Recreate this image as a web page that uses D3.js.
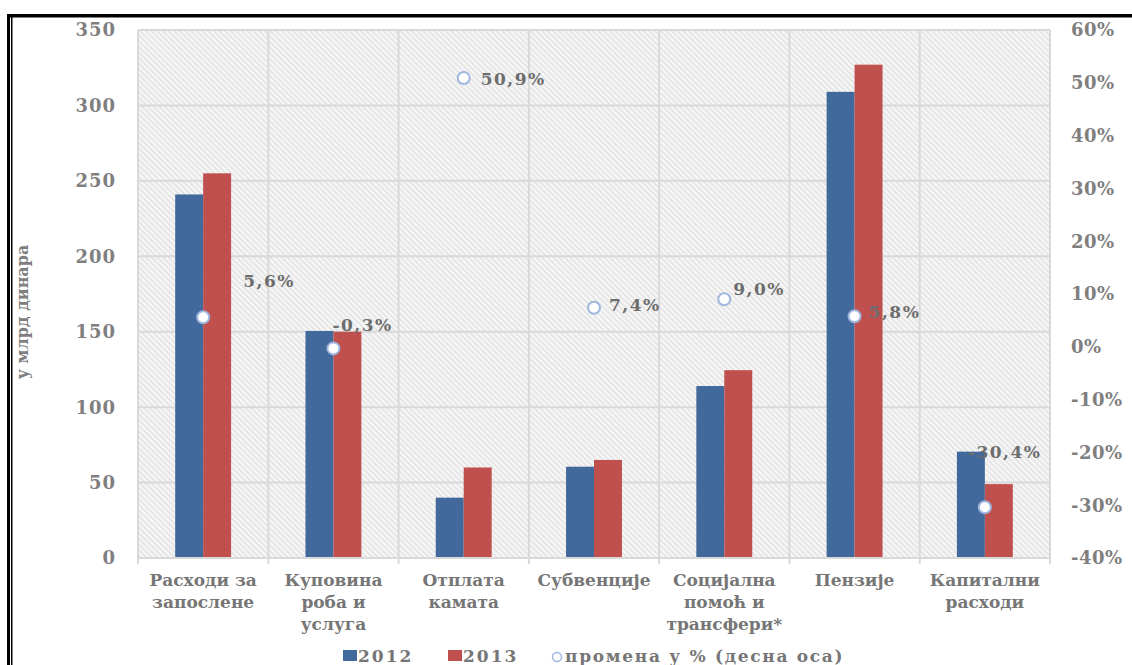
<!DOCTYPE html>
<html>
<head>
<meta charset="utf-8">
<script src="https://cdn.jsdelivr.net/npm/d3@7"></script>
<style>
  body { margin: 0; background: #ffffff; }
  #container text { font-family: "DejaVu Serif", serif; font-weight: bold; }
</style>
</head>
<body>
<div id="container"></div>
<script>
// категорије и вредности (у млрд динара)
const categories = [
  ["Расходи за", "запослене"],
  ["Куповина", "роба и", "услуга"],
  ["Отплата", "камата"],
  ["Субвенције"],
  ["Социјална", "помоћ и", "трансфери*"],
  ["Пензије"],
  ["Капитални", "расходи"]
];
const years = ["2012", "2013"];
const values2012 = [241, 150.5, 40, 60.5, 114, 309, 70.5];
const values2013 = [255, 150, 60, 65, 124.5, 327, 49];
const changePct = [5.6, -0.3, 50.9, 7.4, 9.0, 5.8, -30.4];
const leftTicks = [0, 50, 100, 150, 200, 250, 300, 350];
const rightTicks = [-40, -30, -20, -10, 0, 10, 20, 30, 40, 50, 60];

// померај натписа процената у односу на маркер (као у оригиналу)
const labelOffset = [[40, -30], [-1, -17], [17, 7], [15, 3], [9, -4], [14, 2], [-17, -49]];

const W = 1132, H = 665;
const margin = {top: 30, right: 82, bottom: 107, left: 138};
const width = W - margin.left - margin.right,
      height = H - margin.top - margin.bottom;

const svg = d3.select("#container")
  .append("svg")
    .attr("width", W)
    .attr("height", H);

// шрафура позадине
const defs = svg.append("defs");
const pat = defs.append("pattern")
  .attr("id", "hatch")
  .attr("patternUnits", "userSpaceOnUse")
  .attr("width", 4).attr("height", 4)
  .attr("patternTransform", "rotate(-45)");
pat.append("rect").attr("width", 4).attr("height", 4).attr("fill", "#f7f7f7");
pat.append("rect").attr("width", 1.6).attr("height", 4).attr("fill", "#e2e2e2");

// оквир
svg.append("rect").attr("x", 7).attr("y", 14).attr("width", W - 7).attr("height", 3.5).attr("fill", "#000");
svg.append("rect").attr("x", 7).attr("y", 14).attr("width", 3).attr("height", H - 14).attr("fill", "#000");
svg.append("rect").attr("x", 11).attr("y", 17).attr("width", 1.5).attr("height", H - 17).attr("fill", "#000");

const g = svg.append("g")
  .attr("transform", `translate(${margin.left}, ${margin.top})`);

const x = d3.scaleBand()
  .domain(d3.range(categories.length))
  .range([0, width])
  .padding(0);

const xSub = d3.scaleBand()
  .domain(years)
  .range([0, x.bandwidth()])
  .paddingInner(0)
  .paddingOuter(1.33);

const y = d3.scaleLinear().domain([0, 350]).range([height, 0]);
const y2 = d3.scaleLinear().domain([-40, 60]).range([height, 0]);

g.append("rect")
  .attr("width", width).attr("height", height)
  .attr("fill", "url(#hatch)");

// хоризонталне линије мреже
g.append("g").selectAll("line")
  .data(leftTicks)
  .join("line")
    .attr("x1", 0).attr("x2", width)
    .attr("y1", d => y(d)).attr("y2", d => y(d))
    .attr("stroke", "#d9d9d9").attr("stroke-width", 2);

// вертикалне линије мреже
const bounds = d3.range(categories.length + 1);
g.append("g").selectAll("line")
  .data(bounds)
  .join("line")
    .attr("x1", d => d === categories.length ? width : x(d))
    .attr("x2", d => d === categories.length ? width : x(d))
    .attr("y1", 0).attr("y2", height + 6)
    .attr("stroke", "#d9d9d9").attr("stroke-width", 2);

// леве ознаке
g.append("g").selectAll("text")
  .data(leftTicks)
  .join("text")
    .attr("x", -22)
    .attr("y", d => y(d))
    .attr("dy", "0.36em")
    .attr("text-anchor", "end")
    .attr("fill", "#7f7f7f")
    .style("font-size", "18px")
    .style("letter-spacing", "1px")
    .text(d => d);

// десне ознаке
g.append("g").selectAll("text")
  .data(rightTicks)
  .join("text")
    .attr("x", width + 21)
    .attr("y", d => y2(d))
    .attr("dy", "0.36em")
    .attr("text-anchor", "start")
    .attr("fill", "#7f7f7f")
    .style("font-size", "18px")
    .style("letter-spacing", "0.5px")
    .text(d => d + "%");

// наслов осе
svg.append("text")
  .attr("transform", "translate(28, 312) rotate(-90)")
  .attr("text-anchor", "middle")
  .attr("fill", "#7f7f7f")
  .style("font-size", "16px")
  .text("у млрд динара");

// стубови
const series = [
  {year: "2012", values: values2012, color: "#41699c"},
  {year: "2013", values: values2013, color: "#c0504d"}
];
series.forEach(s => {
  g.append("g").selectAll("rect")
    .data(s.values)
    .join("rect")
      .attr("x", (d, i) => x(i) + xSub(s.year))
      .attr("y", d => y(d))
      .attr("width", xSub.bandwidth())
      .attr("height", d => y(0) - y(d))
      .attr("fill", s.color);
});

// доња оса
g.append("line")
  .attr("x1", 0).attr("x2", width)
  .attr("y1", height).attr("y2", height)
  .attr("stroke", "#d9d9d9").attr("stroke-width", 2);

// натписи категорија
const catG = g.append("g").selectAll("text")
  .data(categories)
  .join("text")
    .attr("text-anchor", "middle")
    .attr("fill", "#767676")
    .style("font-size", "17px")
    .attr("transform", (d, i) => `translate(${x(i) + x.bandwidth() / 2}, ${height + 28})`);
catG.selectAll("tspan")
  .data(d => d)
  .join("tspan")
    .attr("x", 0)
    .attr("y", (d, i) => i * 22)
    .text(d => d);

// маркери промене
const cx = i => x(i) + x.bandwidth() / 2;
g.append("g").selectAll("circle")
  .data(changePct)
  .join("circle")
    .attr("cx", (d, i) => cx(i))
    .attr("cy", d => y2(d))
    .attr("r", 6)
    .attr("fill", "#ffffff")
    .attr("stroke", "#9fb6de")
    .attr("stroke-width", 2);

g.append("g").selectAll("text")
  .data(changePct)
  .join("text")
    .attr("x", (d, i) => cx(i) + labelOffset[i][0])
    .attr("y", (d, i) => y2(d) + labelOffset[i][1])
    .attr("fill", "#6d6d6d")
    .style("font-size", "17px")
    .style("letter-spacing", "1.5px")
    .text(d => d.toFixed(1).replace(".", ",") + "%");

// легенда
const legend = svg.append("g").attr("transform", "translate(0, 662)");
legend.append("rect").attr("x", 343).attr("y", -12).attr("width", 14).attr("height", 11).attr("fill", "#41699c");
legend.append("text").attr("x", 358).attr("y", 0).attr("fill", "#767676")
  .style("font-size", "17px").style("letter-spacing", "2px").text("2012");
legend.append("rect").attr("x", 448).attr("y", -12).attr("width", 14).attr("height", 11).attr("fill", "#c0504d");
legend.append("text").attr("x", 463).attr("y", 0).attr("fill", "#767676")
  .style("font-size", "17px").style("letter-spacing", "2px").text("2013");
legend.append("circle").attr("cx", 557).attr("cy", -5).attr("r", 4.5)
  .attr("fill", "#fff").attr("stroke", "#9fb6de").attr("stroke-width", 1.5);
legend.append("text").attr("x", 565).attr("y", 0).attr("fill", "#767676")
  .style("font-size", "17px").style("letter-spacing", "1.7px").text("промена у % (десна оса)");
</script>
</body>
</html>
